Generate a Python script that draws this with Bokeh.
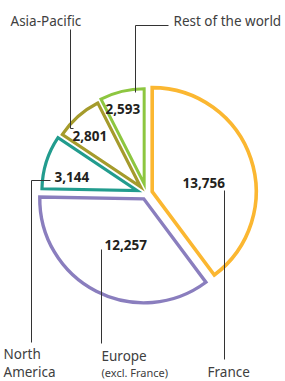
import numpy as np
from bokeh.plotting import figure
from bokeh.models import Range1d, ColumnDataSource
from bokeh.core.properties import value
from bokeh.embed import file_html
from bokeh.resources import INLINE

# ---- data ----
regions = ["France", "Europe (excl. France)", "North America", "Asia-Pacific", "Rest of the world"]
values = [13756, 12257, 3144, 2801, 2593]
value_labels = ["13,756", "12,257", "3,144", "2,801", "2,593"]

# ---- styles ----
colors = ["#FBB731", "#8A7EBE", "#229C8E", "#A59B2C", "#8DC640"]
radii = [104, 104, 95, 94, 95]
explode = [6, 6, 10, 9, 10]
widths = [3.6, 3.4, 3.2, 3.2, 3.0]

W, H = 285, 381
p = figure(width=W, height=H, output_backend="svg", toolbar_location=None,
           x_range=Range1d(0, W), y_range=Range1d(0, H), min_border=0)
p.axis.visible = False
p.grid.visible = False
p.outline_line_color = None
p.background_fill_color = "white"

# page pixel -> data
def X(px):
    return px
def Y(py):
    return H - py

cx, cy = X(146), Y(193)
vals = np.array(values, dtype=float)
frac = vals / vals.sum()
ends = np.cumsum(frac) * 2 * np.pi
starts = ends - frac * 2 * np.pi
bis = (starts + ends) / 2
xs = cx + np.array(explode) * np.sin(bis)
ys = cy + np.array(explode) * np.cos(bis)
src = ColumnDataSource(dict(
    x=xs, y=ys, r=radii,
    start=np.pi / 2 - ends, end=np.pi / 2 - starts,
    color=colors, lw=widths))
p.wedge(x="x", y="y", radius="r", start_angle="start", end_angle="end",
        direction="anticlock", fill_color="white", line_color="color",
        line_width="lw", line_join="miter", source=src)

lead = "#333333"
# leader lines (page pixel coordinates)
segs = [
    ([70, 70, 73], [29, 128, 128]),          # Asia-Pacific
    ([168, 135, 135], [25, 25, 92]),         # Rest of the world
    ([50, 31, 31], [180, 180, 342]),         # North America
    ([101, 101], [249, 343]),                # Europe
    ([224, 224], [190, 359]),                # France
]
for sx, sy in segs:
    p.line([X(v) for v in sx], [Y(v) for v in sy], line_color=lead, line_width=1)

# value labels
num_pos = [(182, 182), (104, 244), (54, 176), (72, 135), (105, 108)]
p.text(x=[X(a) for a, b in num_pos], y=[Y(b) for a, b in num_pos], text=value_labels,
       text_font=value("Noto Sans"), text_font_style="bold", text_font_size="13.5px",
       text_color="#231F20", text_align="left", text_baseline="middle")

# category labels
lab_font = value("Noto Sans")
cat = [
    ("Asia-Pacific", 10, 20, "13.5px"),
    ("Rest of the world", 173, 20, "13.5px"),
    ("North", 3, 353, "13.5px"),
    ("America", 3, 371, "13.5px"),
    ("Europe", 101, 355, "13.5px"),
    ("(excl. France)", 101, 372, "11px"),
    ("France", 207, 371, "13.5px"),
]
for t, a, b, fs in cat:
    p.text(x=[X(a)], y=[Y(b)], text=[t], text_font=lab_font, text_font_size=fs,
           text_color="#404040", text_align="left", text_baseline="middle")

open("out.html", "w").write(file_html(p, INLINE))
